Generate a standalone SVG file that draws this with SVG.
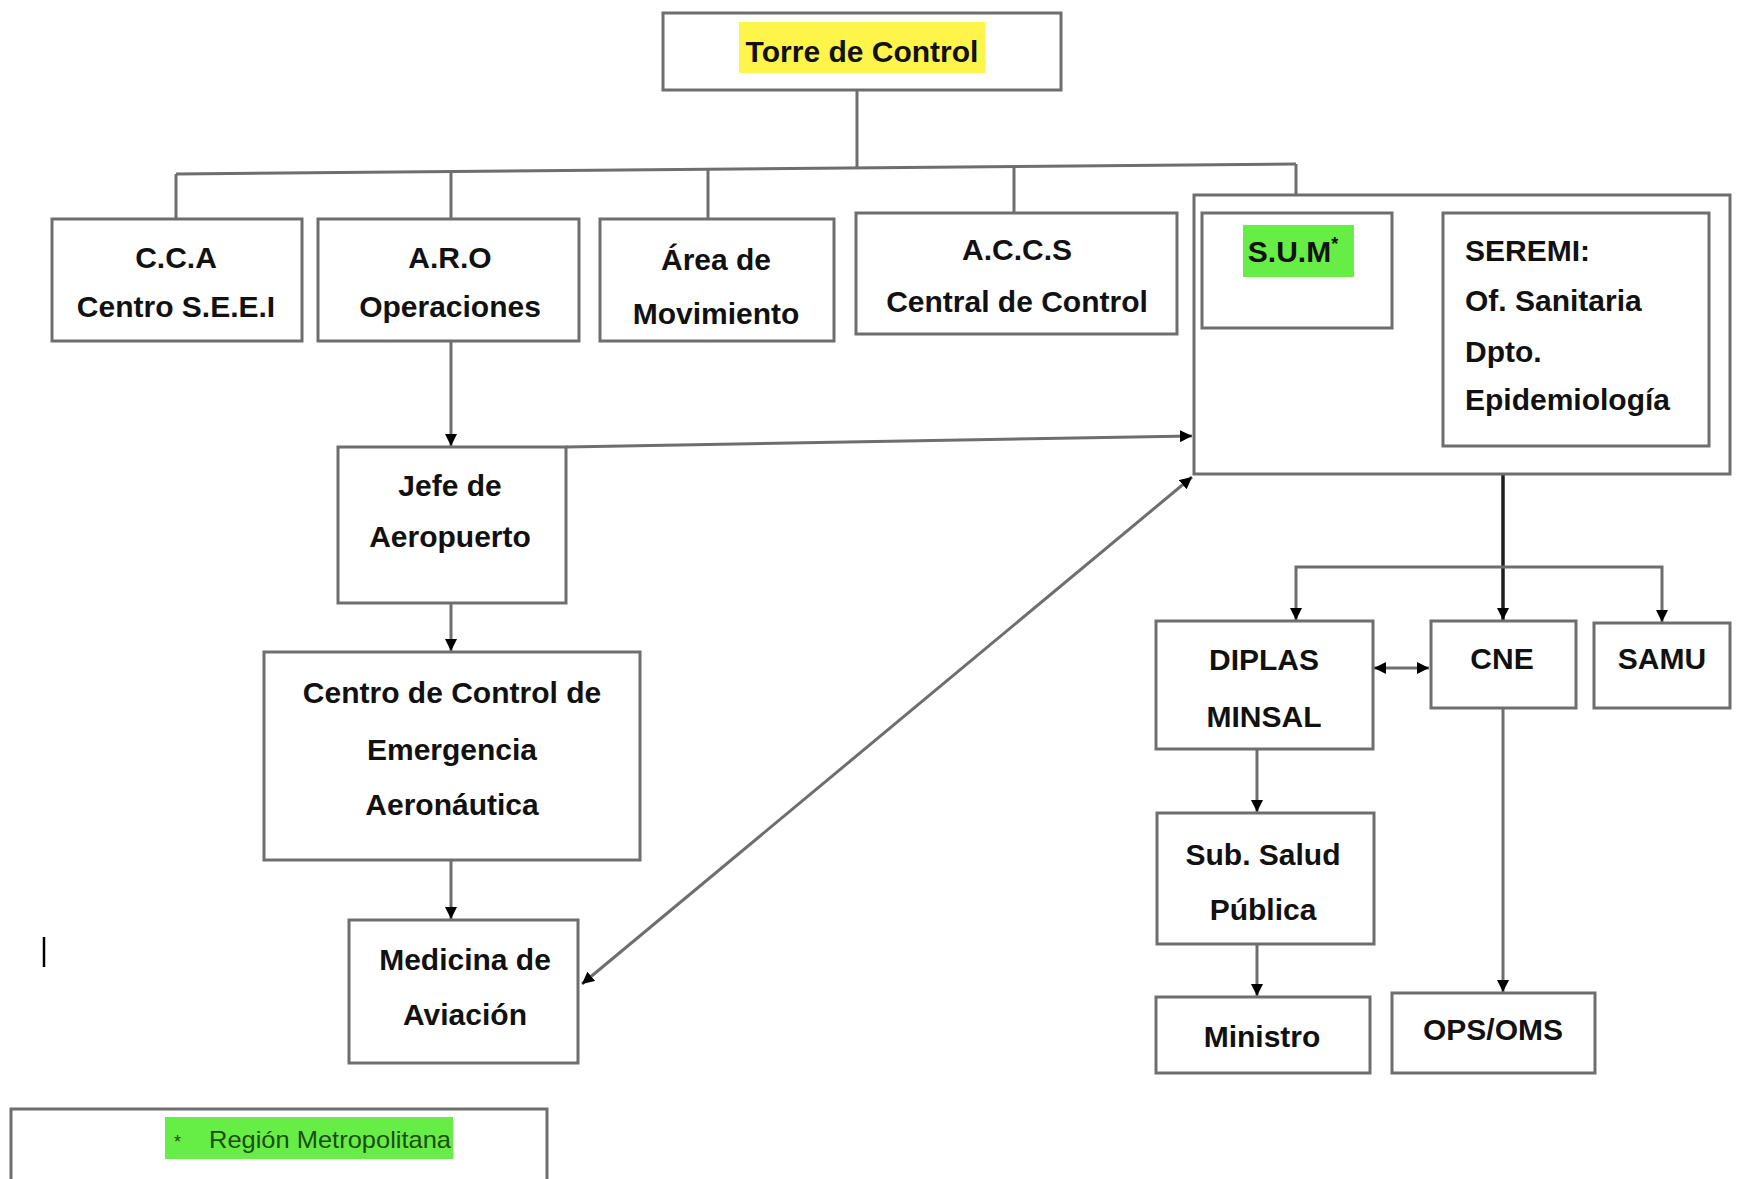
<svg xmlns="http://www.w3.org/2000/svg" width="1738" height="1179" viewBox="0 0 1738 1179">
<defs>
<style>
.box{fill:#fff;stroke:#6e6e6e;stroke-width:3}
.ln{fill:none;stroke:#6e6e6e;stroke-width:3}
.lnd{fill:none;stroke:#1e1e1e;stroke-width:3.5}
.t{font-family:"Liberation Sans",Arial,sans-serif;font-weight:bold;font-size:30px;fill:#111;text-anchor:middle}
.tl{text-anchor:start}
</style>
<marker id="ah" viewBox="0 0 10 10" refX="10" refY="5" markerWidth="12" markerHeight="12" markerUnits="userSpaceOnUse" orient="auto-start-reverse">
<path d="M0,0 L10,5 L0,10 Z" fill="#000"/>
</marker>
</defs>
<rect width="1738" height="1179" fill="#fff"/>

<g id="connectors">
<line class="ln" x1="857" y1="90" x2="857" y2="168"/>
<line class="ln" x1="176" y1="174" x2="1296" y2="164"/>
<line class="ln" x1="176" y1="174" x2="176" y2="219"/>
<line class="ln" x1="451" y1="172" x2="451" y2="219"/>
<line class="ln" x1="708" y1="170" x2="708" y2="219"/>
<line class="ln" x1="1014" y1="166" x2="1014" y2="213"/>
<line class="ln" x1="1296" y1="164" x2="1296" y2="213"/>
<line class="ln" x1="451" y1="342" x2="451" y2="446" marker-end="url(#ah)"/>
<line class="ln" x1="451" y1="603" x2="451" y2="651" marker-end="url(#ah)"/>
<line class="ln" x1="451" y1="860" x2="451" y2="919" marker-end="url(#ah)"/>
<line class="ln" x1="566" y1="447" x2="1192" y2="436" marker-end="url(#ah)"/>
<line class="ln" x1="582" y1="984" x2="1192" y2="477" marker-start="url(#ah)" marker-end="url(#ah)"/>
<line class="ln" x1="1394" y1="278" x2="1441" y2="278" marker-start="url(#ah)" marker-end="url(#ah)"/>
<line class="lnd" x1="1503" y1="447" x2="1503" y2="620" marker-end="url(#ah)"/>
<polyline class="ln" points="1296,620 1296,567 1662,567 1662,622" marker-start="url(#ah)" marker-end="url(#ah)"/>
<line class="ln" x1="1374" y1="668" x2="1429" y2="668" marker-start="url(#ah)" marker-end="url(#ah)"/>
<line class="ln" x1="1257" y1="749" x2="1257" y2="812" marker-end="url(#ah)"/>
<line class="ln" x1="1257" y1="944" x2="1257" y2="996" marker-end="url(#ah)"/>
<line class="ln" x1="1503" y1="708" x2="1503" y2="992" marker-end="url(#ah)"/>
</g>

<g id="torre">
<rect class="box" x="663" y="13" width="398" height="77"/>
<rect x="739" y="22" width="246" height="51" fill="#fff54a"/>
<text class="t" x="862" y="62" font-size="31">Torre de Control</text>
</g>

<g id="cca">
<rect class="box" x="52" y="219" width="250" height="122"/>
<text class="t" x="176" y="268">C.C.A</text>
<text class="t" x="176" y="317">Centro S.E.E.I</text>
</g>

<g id="aro">
<rect class="box" x="318" y="219" width="261" height="122"/>
<text class="t" x="450" y="268">A.R.O</text>
<text class="t" x="450" y="317">Operaciones</text>
</g>

<g id="area">
<rect class="box" x="600" y="219" width="234" height="122"/>
<text class="t" x="716" y="270">Área de</text>
<text class="t" x="716" y="324">Movimiento</text>
</g>

<g id="accs">
<rect class="box" x="856" y="213" width="321" height="121"/>
<text class="t" x="1017" y="260">A.C.C.S</text>
<text class="t" x="1017" y="312">Central de Control</text>
</g>

<g id="grupo-sum">
<rect class="box" x="1194" y="195" width="536" height="279"/>
</g>

<g id="sum">
<rect class="box" x="1202" y="213" width="190" height="115"/>
<rect x="1243" y="225" width="111" height="52" fill="#66ee46"/>
<text class="t" x="1293" y="262">S.U.M<tspan font-size="18" dy="-12">*</tspan></text>
</g>

<g id="seremi">
<rect class="box" x="1443" y="213" width="266" height="233"/>
<text class="t tl" x="1465" y="261">SEREMI:</text>
<text class="t tl" x="1465" y="311">Of. Sanitaria</text>
<text class="t tl" x="1465" y="362">Dpto.</text>
<text class="t tl" x="1465" y="410">Epidemiología</text>
</g>

<g id="jefe">
<rect class="box" x="338" y="447" width="228" height="156"/>
<text class="t" x="450" y="496">Jefe de</text>
<text class="t" x="450" y="547">Aeropuerto</text>
</g>

<g id="cceа">
<rect class="box" x="264" y="652" width="376" height="208"/>
<text class="t" x="452" y="703">Centro de Control de</text>
<text class="t" x="452" y="760">Emergencia</text>
<text class="t" x="452" y="815">Aeronáutica</text>
</g>

<g id="medicina">
<rect class="box" x="349" y="920" width="229" height="143"/>
<text class="t" x="465" y="970">Medicina de</text>
<text class="t" x="465" y="1025">Aviación</text>
</g>

<g id="diplas">
<rect class="box" x="1156" y="621" width="217" height="128"/>
<text class="t" x="1264" y="670">DIPLAS</text>
<text class="t" x="1264" y="727">MINSAL</text>
</g>

<g id="cne">
<rect class="box" x="1431" y="621" width="145" height="87"/>
<text class="t" x="1502" y="669">CNE</text>
</g>

<g id="samu">
<rect class="box" x="1594" y="623" width="136" height="85"/>
<text class="t" x="1662" y="669">SAMU</text>
</g>

<g id="subsalud">
<rect class="box" x="1157" y="813" width="217" height="131"/>
<text class="t" x="1263" y="865">Sub. Salud</text>
<text class="t" x="1263" y="920">Pública</text>
</g>

<g id="ministro">
<rect class="box" x="1156" y="997" width="214" height="76"/>
<text class="t" x="1262" y="1047">Ministro</text>
</g>

<g id="ops">
<rect class="box" x="1392" y="993" width="203" height="80"/>
<text class="t" x="1493" y="1040">OPS/OMS</text>
</g>

<line x1="44" y1="937" x2="44" y2="967" stroke="#000" stroke-width="2.5"/>

<g id="leyenda">
<rect class="box" x="11" y="1109" width="536" height="120"/>
<rect x="165" y="1117" width="288" height="42" fill="#66ee46"/>
<text x="174" y="1148" font-family="'Liberation Sans',Arial,sans-serif" font-size="18" fill="#1d4d12">*</text>
<text x="209" y="1148" font-family="'Liberation Sans',Arial,sans-serif" font-size="24" fill="#1d4d12" textLength="242" lengthAdjust="spacingAndGlyphs">Región Metropolitana</text>
</g>
</svg>
